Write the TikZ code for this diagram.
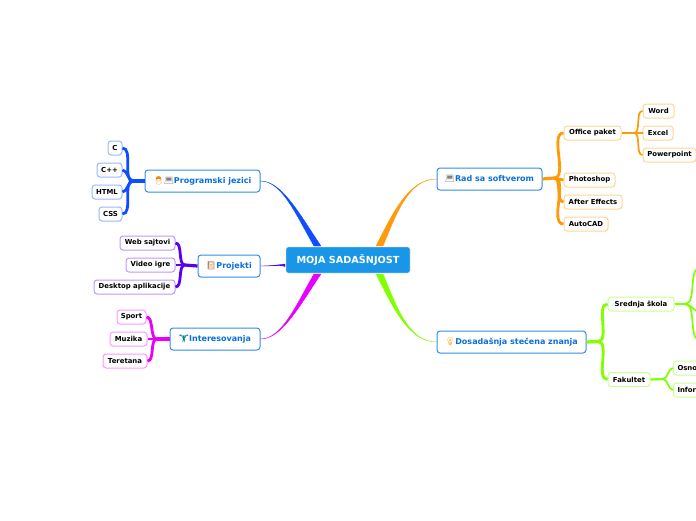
\documentclass[tikz,border=0pt]{standalone}
\usepackage{fontspec}
\setmainfont{DejaVu Sans}
\newfontfamily\emojifont{Noto Emoji}
\usepackage{tikz}
\definecolor{rootblue}{HTML}{1A96E8}
\definecolor{topicblue}{HTML}{0A6FDC}
\definecolor{topicline}{HTML}{2F8FEB}
\definecolor{langcol}{HTML}{0F4DFF}
\definecolor{langpale}{HTML}{9DB6FF}
\definecolor{projcol}{HTML}{5A00F0}
\definecolor{projpale}{HTML}{BF96FF}
\definecolor{intcol}{HTML}{E800FF}
\definecolor{intpale}{HTML}{FF96FF}
\definecolor{softcol}{HTML}{FF9A0A}
\definecolor{softpale}{HTML}{FFD596}
\definecolor{znacol}{HTML}{80FF00}
\definecolor{znapale}{HTML}{C8FF96}
\tikzset{
  rootbox/.style={fill=rootblue,draw=white,rounded corners=2pt,text=white,inner sep=0pt,
    minimum width=124pt,minimum height=26pt,font=\fontsize{9.7}{11}\selectfont\bfseries},
  topicbox/.style={fill=white,draw=topicline,line width=1pt,rounded corners=3pt,text=topicblue,inner sep=0pt,
    minimum height=22pt,font=\fontsize{8}{10}\selectfont\bfseries},
  leafbox/.style={fill=white,draw=#1,line width=1pt,rounded corners=3pt,text=black,inner sep=0pt,
    minimum height=14pt,font=\fontsize{6.9}{8}\selectfont\bfseries},
  stemline/.style={draw=#1,line width=3.2pt},
  forkline/.style={draw=#1,line width=2.8pt,out=180,in=0,looseness=.8},
  forkright/.style={draw=#1,line width=2.8pt,out=0,in=180,looseness=.8},
  smallstem/.style={draw=#1,line width=2.2pt},
  smallfork/.style={draw=#1,line width=1.7pt,out=0,in=180,looseness=.8}
}
\newcommand{\icon}[2]{{\color{#1}\emojifont #2}}
\newcommand{\bough}[5]{\fill[#1,draw=#1,line width=.4pt] (#2) .. controls (#3) and (#4) .. (#5A) -- (#5B) .. controls ([xshift=4pt]#4) and (#3) .. (#2) -- cycle;}
\begin{document}
\begin{tikzpicture}[x=1pt,y=-1pt]
  \useasboundingbox (0,0) rectangle (696,520);
  \clip (0,0) rectangle (696,520);

  \node[rootbox] (root) at (348,260) {MOJA SADAŠNJOST};

  \node[topicbox,minimum width=115pt] (lang) at (202.5,181) {\icon{orange!80!brown}{👨}\icon{gray}{💻}Programski jezici};
  \node[topicbox,minimum width=62pt] (proj) at (229,266) {\icon{brown!80!gray}{📓}Projekti};
  \node[topicbox,minimum width=90pt] (inter) at (215,339) {\icon{teal}{🏋}Interesovanja};
  \node[topicbox,minimum width=105pt] (soft) at (489.5,179) {\icon{gray}{💻}Rad sa softverom};
  \node[topicbox,minimum width=149pt] (zna) at (511.5,342) {\icon{orange!80!yellow}{💡}Dosadašnja stečena znanja};

  \node[leafbox=langpale,minimum width=14pt] (langa) at (115,148) {C};
  \node[leafbox=langpale,minimum width=25pt] (langb) at (109.5,170) {C++};
  \node[leafbox=langpale,minimum width=30pt] (langc) at (107,192) {HTML};
  \node[leafbox=langpale,minimum width=23pt] (langd) at (110.5,214) {CSS};

  \node[leafbox=projpale,minimum width=55pt] (proja) at (147.5,243) {Web sajtovi};
  \node[leafbox=projpale,minimum width=49pt] (projb) at (150.5,265) {Video igre};
  \node[leafbox=projpale,minimum width=81pt] (projc) at (134.5,287) {Desktop aplikacije};

  \node[leafbox=intpale,minimum width=29pt] (intera) at (131.5,317) {Sport};
  \node[leafbox=intpale,minimum width=37pt] (interb) at (128.5,339) {Muzika};
  \node[leafbox=intpale,minimum width=44pt] (interc) at (125,361) {Teretana};

  \node[leafbox=softpale,minimum width=57pt] (office) at (592.5,133) {Office paket};
  \node[leafbox=softpale,minimum width=51pt] (photo) at (589.5,180) {Photoshop};
  \node[leafbox=softpale,minimum width=58pt] (after) at (593,202) {After Effects};
  \node[leafbox=softpale,minimum width=44pt] (acad) at (586,224) {AutoCAD};
  \node[leafbox=softpale,minimum width=31pt] (word) at (658.5,111) {Word};
  \node[leafbox=softpale,minimum width=30pt] (excel) at (658,133) {Excel};
  \node[leafbox=softpale,minimum width=53pt] (power) at (669.5,155) {Powerpoint};

  \node[leafbox=znapale,minimum width=66pt] (school) at (641,304) {Srednja škola\hspace{4pt}};
  \node[leafbox=znapale,minimum width=42pt] (faks) at (629,379.5) {Fakultet};
  \node[leafbox=znapale,minimum width=60pt,anchor=west,align=left,text width=56pt,inner xsep=4pt] (osno) at (673,368) {Osno};
  \node[leafbox=znapale,minimum width=60pt,anchor=west,align=left,text width=56pt,inner xsep=4pt] (infor) at (673,390) {Infor};

  % forks
  \coordinate (langfork) at (133,181);
  \coordinate (projfork) at (185,265);
  \coordinate (interfork) at (157,339);
  \coordinate (softfork) at (554,178);
  \coordinate (officefork) at (634,133);
  \coordinate (znafork) at (598,341.5);
  \coordinate (schoolfork) at (685,304);
  \coordinate (faksfork) at (663,379);
  \coordinate (schoola) at (700,268);
  \coordinate (schoolb) at (700,312);
  \coordinate (schoolc) at (700,340);

  \draw[stemline=langcol] (lang.west) -- (langfork);
  \foreach \kid in {langa,langb,langc,langd}
    \draw[forkline=langcol] (langfork) to (\kid.east);
  \draw[stemline=projcol] (proj.west) -- (projfork);
  \foreach \kid in {proja,projb,projc}
    \draw[forkline=projcol] (projfork) to (\kid.east);
  \draw[stemline=intcol] (inter.west) -- (interfork);
  \foreach \kid in {intera,interb,interc}
    \draw[forkline=intcol] (interfork) to (\kid.east);

  \draw[stemline=softcol] (soft.east) -- (softfork);
  \foreach \kid in {office,photo,after,acad}
    \draw[forkright=softcol] (softfork) to (\kid.west);
  \draw[smallstem=softcol] (office.east) -- (officefork);
  \foreach \kid in {word,excel,power}
    \draw[smallfork=softcol] (officefork) to (\kid.west);

  \draw[stemline=znacol] (zna.east) -- (znafork);
  \foreach \kid in {school,faks}
    \draw[forkright=znacol] (znafork) to (\kid.west);
  \draw[smallstem=znacol] (school.east) -- (schoolfork);
  \foreach \kid in {schoola,schoolb,schoolc}
    \draw[smallfork=znacol] (schoolfork) to (\kid);
  \draw[smallstem=znacol] (faks.east) -- (faksfork);
  \foreach \kid in {osno,infor}
    \draw[smallfork=znacol] (faksfork) to (\kid.west);

  % boughs to the root
  \coordinate (langA) at (314,246);
  \coordinate (langB) at (321,246);
  \coordinate (interA) at (314,274);
  \coordinate (interB) at (321,274);
  \coordinate (softA) at (376,246);
  \coordinate (softB) at (383,246);
  \coordinate (znaA) at (376,274);
  \coordinate (znaB) at (383,274);
  \coordinate (projA) at (285,264);
  \coordinate (projB) at (285,266.5);
  \coordinate (lc1) at (282,181);
  \coordinate (lc2) at (296,215);
  \coordinate (ic1) at (282,339);
  \coordinate (ic2) at (296,305);
  \coordinate (sc1) at (408,179);
  \coordinate (sc2) at (392,215);
  \coordinate (zc1) at (408,342);
  \coordinate (zc2) at (392,305);
  \coordinate (pc1) at (270,266);
  \coordinate (pc2) at (278,265);
  \bough{langcol}{lang.east}{lc1}{lc2}{lang}
  \bough{intcol}{inter.east}{ic1}{ic2}{inter}
  \bough{softcol}{soft.west}{sc1}{sc2}{soft}
  \bough{znacol}{zna.west}{zc1}{zc2}{zna}
  \bough{projcol}{proj.east}{pc1}{pc2}{proj}
\end{tikzpicture}
\end{document}
